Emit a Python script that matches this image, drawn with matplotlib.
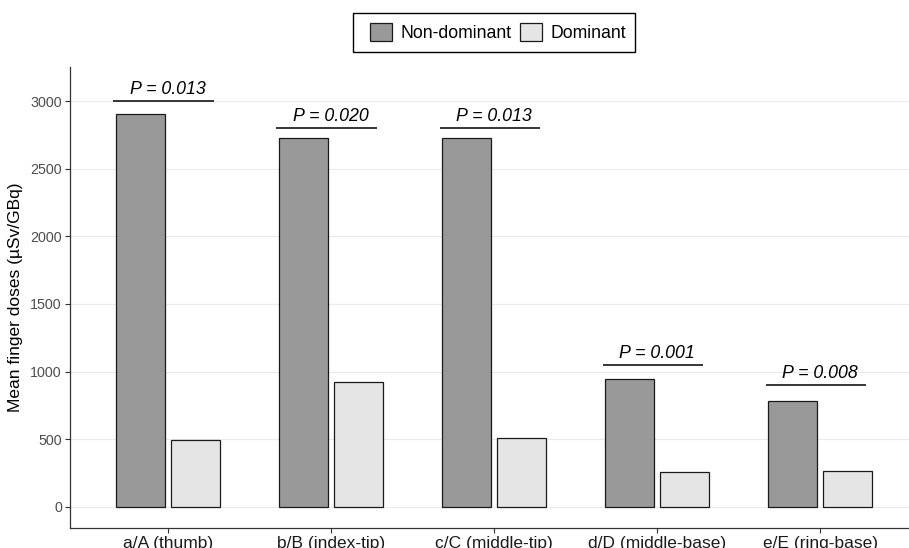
import numpy as np
import matplotlib
matplotlib.use("Agg")
import matplotlib.pyplot as plt
from matplotlib.patches import Patch, Rectangle

plt.rcParams['font.family'] = ['Liberation Sans', 'DejaVu Sans']

# data
categories = ['a/A (thumb)', 'b/B (index-tip)', 'c/C (middle-tip)',
              'd/D (middle-base)', 'e/E (ring-base)']
non_dominant = [2905, 2724, 2724, 946, 785]
dominant = [492, 924, 507, 256, 264]
p_labels = ['P = 0.013', 'P = 0.020', 'P = 0.013', 'P = 0.001', 'P = 0.008']
p_heights = [3000, 2805, 2805, 1050, 900]

W, H = 909, 548
fig = plt.figure(figsize=(W / 100, H / 100), dpi=100)

# panel in pixels: left 70, right 918 (cropped by figure), top 66.7, bottom 527.7
ax = fig.add_axes([70 / W, (H - 527.7) / H, 848 / W, 461 / H])

x = np.arange(len(categories))
bw = 0.30
off = 0.17
ax.bar(x - off, non_dominant, width=bw, color='#999999',
       edgecolor='#1a1a1a', linewidth=0.9, zorder=3)
ax.bar(x + off, dominant, width=bw, color='#e5e5e5',
       edgecolor='#1a1a1a', linewidth=0.9, zorder=3)

# significance bars
for xi, h, lab in zip(x, p_heights, p_labels):
    ax.plot([xi - 0.334, xi + 0.28], [h, h], color='black', lw=1.1,
            solid_capstyle='butt', zorder=4)
    ax.annotate(lab, (xi, h), xytext=(0, 5), textcoords='offset points',
                ha='center', va='baseline', fontsize=12.8, style='italic')

ax.set_xlim(-0.6, 4.6)
ax.set_ylim(-155, 3255)
ax.set_xticks(x)
ax.set_xticklabels(categories, fontsize=12.5, color='#1a1a1a')
ax.set_yticks([0, 500, 1000, 1500, 2000, 2500, 3000])
ax.tick_params(axis='y', labelsize=10.3, labelcolor='#4d4d4d', length=3.3,
               width=0.8, color='#333333', pad=2.5)
ax.tick_params(axis='x', length=3.3, width=0.8, color='#333333', pad=3)
ax.set_ylabel('Mean finger doses (µSv/GBq)', fontsize=12.5, labelpad=5)

ax.yaxis.grid(True, color='#ebebeb', lw=0.8, zorder=0)
ax.set_axisbelow(True)
for s in ['top', 'right']:
    ax.spines[s].set_visible(False)
for s in ['left', 'bottom']:
    ax.spines[s].set_color('#333333')
    ax.spines[s].set_linewidth(0.9)

# legend (ggplot-style box drawn by hand)
handles = [Patch(facecolor='#999999', edgecolor='#1a1a1a', lw=0.9, label='Non-dominant'),
           Patch(facecolor='#e5e5e5', edgecolor='#1a1a1a', lw=0.9, label='Dominant')]
fig.legend(handles=handles, loc='center', ncol=2, frameon=False,
           bbox_to_anchor=(498 / W, (H - 32.2) / H), bbox_transform=fig.transFigure,
           fontsize=12.7, handlelength=1.27, handleheight=1.27,
           handletextpad=0.46, columnspacing=0.46, borderpad=0, borderaxespad=0)
fig.add_artist(Rectangle((353 / W, (H - 51.7) / H), 282 / W, 39 / H,
                         transform=fig.transFigure, fill=False,
                         edgecolor='black', lw=1.0))

fig.savefig('out.png', dpi=100)
